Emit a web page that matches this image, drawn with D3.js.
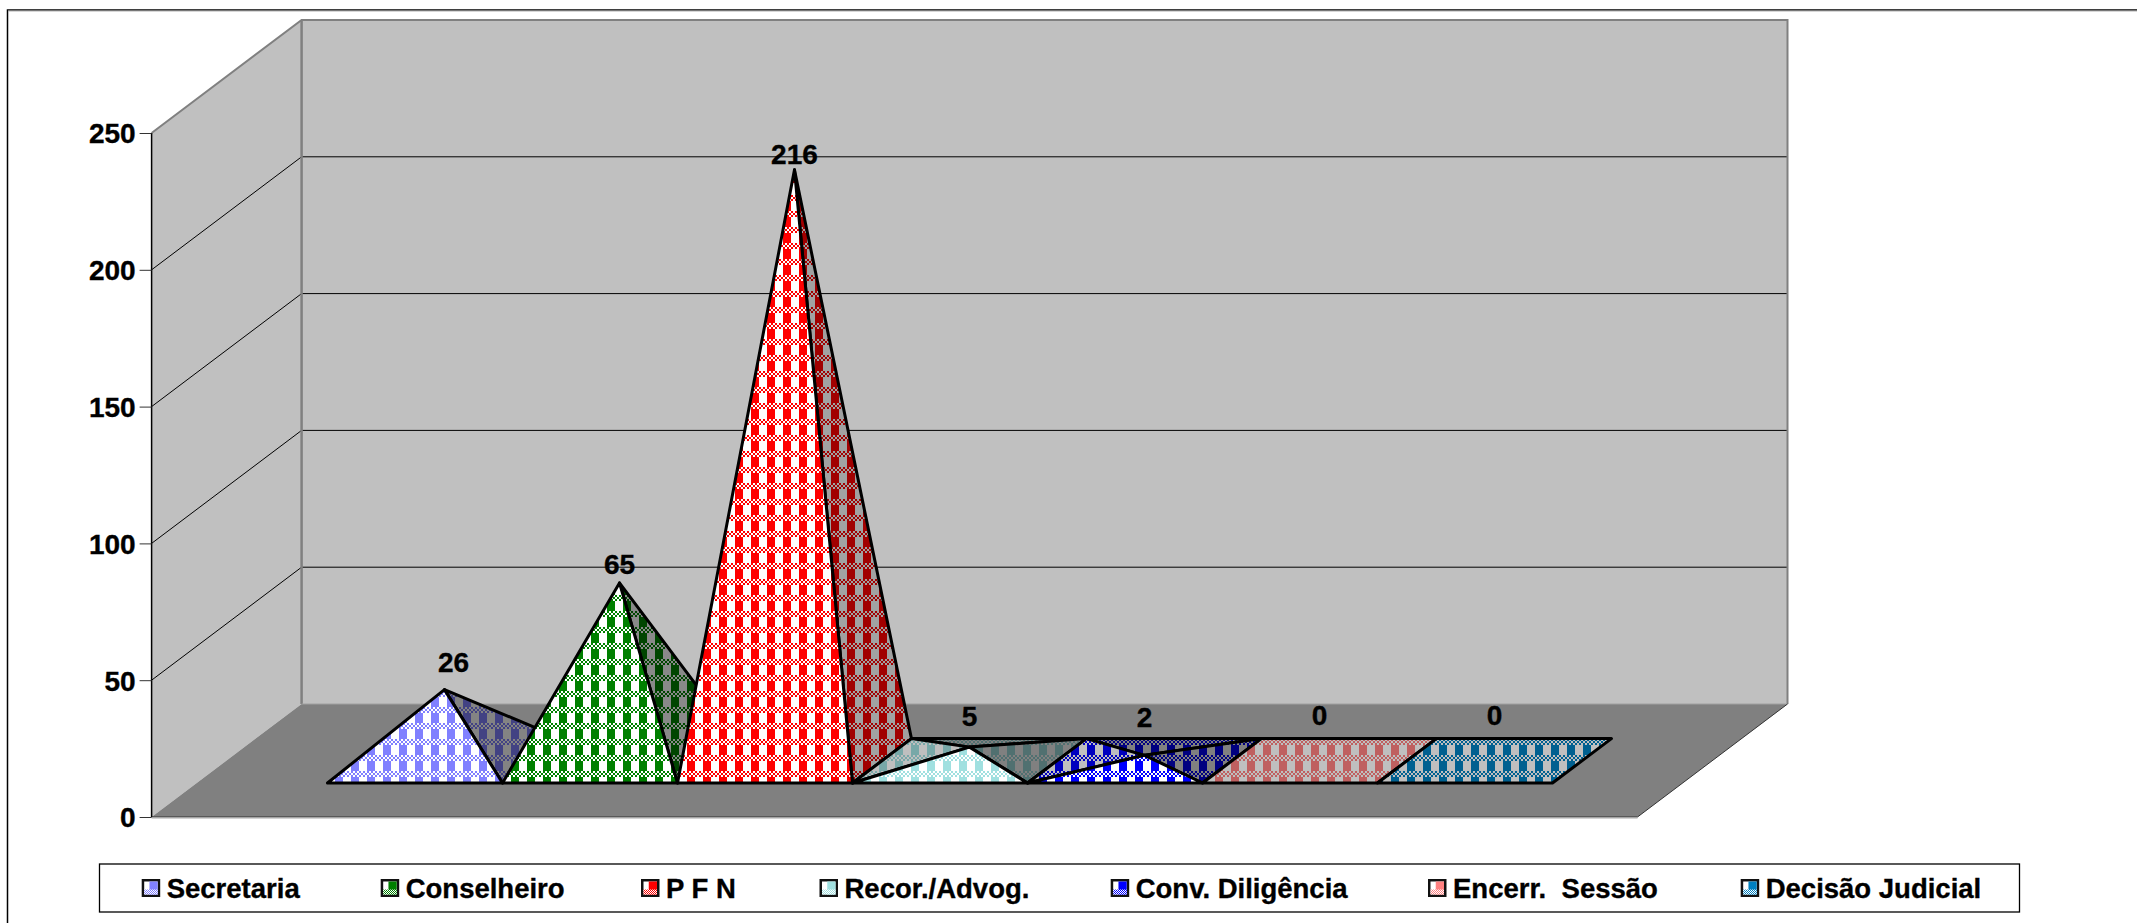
<!DOCTYPE html>
<html><head><meta charset="utf-8">
<script src="https://cdn.jsdelivr.net/npm/d3@7/dist/d3.min.js"></script>
<style>
html,body{margin:0;padding:0;background:#fff}
svg{display:block}
text{font-family:"Liberation Sans",Arial,sans-serif;font-weight:700;fill:#000;white-space:pre;stroke:#000;stroke-width:.35px}
</style></head><body>
<svg id="c" width="2137" height="923"></svg>
<script>
const categories = ["Secretaria","Conselheiro","P F N","Recor./Advog.","Conv. Diligência","Encerr.  Sessão","Decisão Judicial"];
const values = [26,65,216,5,2,0,0];
const colors = ["#8080FF","#008000","#FF0000","#A0E0E0","#0000FF","#FF8080","#0080C0"];
const yTicks = [0,50,100,150,200,250];

// layout (not data)
const legendX = [141.7,380.7,641,819.5,1110.7,1428,1740.7];
const labelLift = [27,19,16,22,21,23,23];
const labelShift = [9,0,0,0,0,0,0];
const W=2137,H=923;
const depthX=150, depthY=-113;
const y = d3.scaleLinear().domain([0,250]).range([817,133]);
const xFront = d3.scaleLinear().domain([0,1]).range([151.6,1637.5]);
const band = d3.scaleBand().domain(categories).range([327.5,1552.5]);
const baseFront=783, baseDepth=0.393;

const svg=d3.select("#c");
const defs=svg.append("defs");
const patCache={};
function shadeColor(c,s){const r=d3.rgb(c);return d3.rgb(r.r*s,r.g*s,r.b*s).formatHex();}
function pattern(color,shade){
  const id="p"+color.slice(1)+"_"+Math.round(shade*100);
  if(patCache[id]) return "url(#"+id+")";
  patCache[id]=1;
  const fg=shadeColor(color,shade), bg=shadeColor("#ffffff",shade);
  const p=defs.append("pattern").attr("id",id).attr("patternUnits","userSpaceOnUse")
    .attr("width",16).attr("height",16).attr("patternTransform","translate(15,9)");
  p.append("rect").attr("width",16).attr("height",16).attr("fill",bg);
  p.append("rect").attr("width",8).attr("height",10).attr("fill",fg);
  d3.range(0,8).forEach(i=>d3.range(0,3).forEach(j=>{
    if((i+j)%2===0) p.append("rect").attr("x",i*2).attr("y",10+j*2).attr("width",2).attr("height",2).attr("fill",fg);
  }));
  return "url(#"+id+")";
}
const P=pts=>pts.map(p=>p.join(",")).join(" ");

// outer frame
svg.append("path").attr("d",`M7.5,${H} V10 H${W}`).attr("fill","none").attr("stroke","#000").attr("stroke-width",1.5);
svg.append("line").attr("x1",8).attr("x2",W).attr("y1",11).attr("y2",11).attr("stroke","#b0b0b0").attr("stroke-width",1);

// walls
const x0=xFront(0), x1=xFront(1), yb=y(0), yt=y(250);
svg.append("polygon").attr("points",P([[x0,yb],[x0+depthX,yb+depthY],[x0+depthX,yt+depthY],[x0,yt]])).attr("fill","#C0C0C0");
svg.append("polygon").attr("points",P([[x0+depthX,yb+depthY],[x1+depthX-.5,yb+depthY],[x1+depthX-.5,yt+depthY],[x0+depthX,yt+depthY]])).attr("fill","#C0C0C0");
svg.append("polygon").attr("points",P([[x0,yb],[x1,yb],[x1+depthX,yb+depthY],[x0+depthX,yb+depthY]])).attr("fill","#808080");

// gridlines
yTicks.filter(t=>t>0&&t<250).forEach(t=>{
  svg.append("path").attr("d",`M${x0},${y(t)} L${x0+depthX},${y(t)+depthY} H${x1+depthX}`)
    .attr("fill","none").attr("stroke","#000").attr("stroke-width",1);
});
// wall edges
svg.append("path").attr("d",`M${x0},${yt} L${x0+depthX},${yt+depthY} H${x1+depthX} V${yb+depthY}`)
  .attr("fill","none").attr("stroke","#808080").attr("stroke-width",2);
svg.append("line").attr("x1",x0+depthX).attr("x2",x0+depthX).attr("y1",yt+depthY).attr("y2",yb+depthY)
  .attr("stroke","#808080").attr("stroke-width",2.5);
svg.append("line").attr("x1",x0+depthX).attr("x2",x1+depthX).attr("y1",yb+depthY).attr("y2",yb+depthY)
  .attr("stroke","#a0a0a0").attr("stroke-width",1);
svg.append("path").attr("d",`M${x0},${yb} H${x1} L${x1+depthX},${yb+depthY}`).attr("fill","none").attr("stroke","#333").attr("stroke-width",1);
svg.append("line").attr("x1",x0).attr("x2",x1).attr("y1",yb+1.2).attr("y2",yb+1.2).attr("stroke","#c0c0c0").attr("stroke-width",1);
svg.append("line").attr("x1",x0).attr("x2",x0).attr("y1",yt).attr("y2",yb).attr("stroke","#000").attr("stroke-width",1.5);

// axis
const ax=svg.append("g").attr("transform",`translate(${x0},0)`)
  .call(d3.axisLeft(y).tickValues(yTicks).tickSize(12).tickPadding(4).tickFormat(d3.format("d")));
ax.select(".domain").remove();
ax.selectAll("line").attr("stroke","#333").attr("stroke-width",1);
ax.selectAll("text").attr("font-size",28).style("font-family",'"Liberation Sans",Arial,sans-serif').style("font-weight",700).attr("fill","#000").attr("dy","0.35em");

// pyramids
const dx=depthX*baseDepth, dy=depthY*baseDepth;
const gP=svg.append("g");
const cross=(a,b,c)=>(b[0]-a[0])*(c[1]-a[1])-(b[1]-a[1])*(c[0]-a[0]);
categories.forEach((cat,i)=>{
  const xl=band(cat), xr=xl+band.bandwidth();
  const FL=[xl,baseFront],FR=[xr,baseFront],BR=[xr+dx,baseFront+dy],BL=[xl+dx,baseFront+dy];
  const cx=(xl+xr+dx)/2, cy=baseFront+dy/2;
  const v=values[i], col=colors[i];
  const apex=[cx,cy-(y(0)-y(v))];
  const face=(pts,s)=>gP.append("polygon").attr("points",P(pts)).attr("fill",pattern(col,s))
    .attr("stroke","#000").attr("stroke-width",3).attr("stroke-linejoin","round");
  if(v===0){
    face([FL,FR,BR,BL],0.75);
  } else {
    const rightShade=0.5+0.13*v/216;
    if(cross(BL,BR,apex)>0) face([BL,BR,apex],0.5);
    if(cross(FL,BL,apex)>0) face([FL,BL,apex],0.75);
    if(cross(BR,FR,apex)>0) face([FR,BR,apex],rightShade);
    face([FL,FR,apex],1);
  }
  const top=Math.min(apex[1],baseFront+dy);
  svg.append("text").attr("x",cx+labelShift[i]).attr("y",top-labelLift[i]).attr("dy","0.35em")
    .attr("text-anchor","middle").attr("font-size",28).text(v);
});

// legend
const lg=svg.append("g");
lg.append("rect").attr("x",99.5).attr("y",864).attr("width",1920).attr("height",48).attr("fill","#fff").attr("stroke","#000").attr("stroke-width",1.3);
categories.forEach((cat,i)=>{
  const mx=legendX[i], my=879, mw=18.5, mh=18, col=colors[i], b=2.5;
  lg.append("rect").attr("x",mx).attr("y",my).attr("width",mw).attr("height",mh).attr("fill","#111");
  lg.append("rect").attr("x",mx+b).attr("y",my+b).attr("width",mw-2*b).attr("height",mh-2*b).attr("fill","#fff");
  lg.append("rect").attr("x",mx+mw/2-1.5).attr("y",my+b).attr("width",mw/2+1.5-b).attr("height",mh-2*b).attr("fill",col);
  const id="d"+i;
  const p=defs.append("pattern").attr("id",id).attr("patternUnits","userSpaceOnUse").attr("width",2).attr("height",2);
  p.append("rect").attr("width",2).attr("height",2).attr("fill","#fff");
  p.append("rect").attr("width",1).attr("height",1).attr("fill",col);
  p.append("rect").attr("x",1).attr("y",1).attr("width",1).attr("height",1).attr("fill",col);
  lg.append("rect").attr("x",mx+b).attr("y",my+mh-b-5).attr("width",mw-2*b).attr("height",5).attr("fill",`url(#${id})`);
  lg.append("text").attr("x",mx+25).attr("y",888.5).attr("dy","0.35em").attr("font-size",27.5).text(cat);
});
</script>
</body></html>
